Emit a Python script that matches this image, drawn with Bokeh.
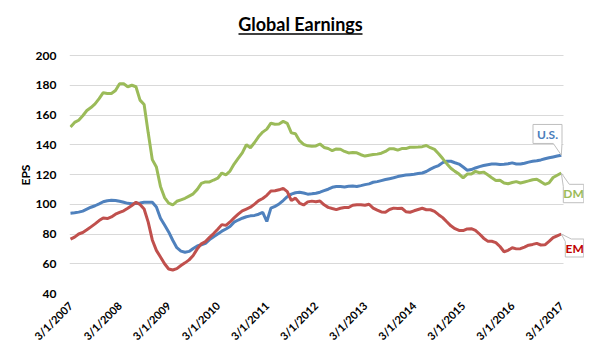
from bokeh.plotting import figure
from bokeh.models import FixedTicker, Label, Range1d, Title
from bokeh.embed import file_html
from bokeh.resources import INLINE

# ---------------- data (monthly, 3/1/2007 .. 3/1/2017) ----------------
tick_labels = ["3/1/2007", "3/1/2008", "3/1/2009", "3/1/2010", "3/1/2011", "3/1/2012",
               "3/1/2013", "3/1/2014", "3/1/2015", "3/1/2016", "3/1/2017"]
y_ticks = [40, 60, 80, 100, 120, 140, 160, 180, 200]

us = [94, 94.3, 94.7, 95.4, 96.7, 98, 99, 100.3, 101.7, 102.4,
      102.7, 102.5, 102, 101.3, 100.6, 100.4, 100.5, 100.8, 101.3, 101.4,
      101.4, 98.2, 90.6, 86, 81.4, 75.8, 70.8, 68.5, 67.7, 68.3,
      70.2, 71.9, 72.8, 73.7, 76.2, 78.2, 80, 81.9, 83.4, 85.1,
      88, 89.4, 90.6, 91.6, 92.2, 92.5, 93.3, 94.6, 88.4, 97.4,
      98.6, 100.2, 102.5, 105.1, 106.8, 107.7, 108.1, 107.6, 106.8, 107,
      107.4, 108.1, 109.1, 110.1, 111.4, 111.9, 112, 111.6, 112.1, 112.2,
      111.9, 112.5, 113.2, 113.7, 114.8, 115.2, 115.9, 116.6, 117.2, 117.8,
      118.6, 119.2, 119.6, 119.9, 120.2, 120.6, 121, 122, 123.6, 124.9,
      126, 128, 128.9, 128.9, 127.9, 127, 125, 122.9, 123.3, 124.4,
      125.3, 126, 126.6, 127, 127, 126.7, 126.9, 127.2, 127.8, 127.1,
      127, 127.6, 128.3, 128.9, 129.2, 129.8, 130.6, 131.2, 131.8, 132.4,
      133]

dm = [152, 155, 156.5, 159.5, 163, 165, 167.5, 171, 175, 174.5,
      174.5, 176.5, 181, 181, 179, 180, 179, 170, 167, 148,
      130, 125, 112, 104.5, 100.7, 99.5, 102, 103, 104, 105.5,
      107, 110, 114, 115, 115, 116.3, 117.5, 121, 119.8, 122.3,
      127, 130.8, 134.5, 140, 138, 141.5, 145.5, 148.5, 150.5, 154.5,
      153.8, 154, 155.7, 154.4, 148, 147.4, 142.7, 140.3, 139.3, 139,
      139.2, 140.5, 138.2, 137.5, 136, 137.2, 137, 135.5, 134.5, 134.8,
      134.6, 133.3, 132.4, 133, 133.4, 133.7, 134.3, 135.5, 137.3, 137.3,
      136.4, 137.4, 137.4, 138.3, 138.4, 138.5, 138.7, 139.5, 138, 136.9,
      134, 130.7, 127.3, 124.2, 122.1, 120.3, 117.7, 120.3, 120.3, 122.1,
      121.2, 121.6, 119.8, 117.8, 116, 116.2, 114.3, 113.8, 114.6, 115.2,
      114.3, 115, 115.7, 116.5, 116.8, 115.2, 113.4, 114.4, 118, 119.5,
      121]

em = [76.5, 77.9, 80, 81, 82.8, 84.8, 86.8, 89, 90.8, 90.4,
      91.5, 93.3, 94.5, 95.6, 97.3, 99.2, 101.3, 99.8, 96.8, 88,
      76, 69, 64.5, 60, 56.5, 55.8, 56.7, 58.8, 60.6, 62.6,
      65.6, 70, 73.4, 74.9, 77.7, 80.3, 83.2, 86.3, 85.8, 88.1,
      90.8, 93.3, 95.6, 96.8, 98, 100.1, 102.4, 103.9, 106, 108.9,
      109.1, 109.7, 110.7, 108.5, 102.5, 104.1, 100.8, 99.5, 101.6, 102.1,
      101.7, 102.2, 99.6, 97.9, 97.1, 96.4, 97.3, 97.8, 97.8, 99.3,
      99.7, 99.7, 99.3, 100, 97.4, 96, 94.8, 94.7, 96.5, 97.4,
      97.1, 97.3, 95, 94.6, 95.6, 96.5, 97.3, 96.3, 96.3, 95.2,
      93, 91, 88.2, 85.5, 83.6, 82.4, 82.3, 83.4, 83.6, 82.5,
      80, 77.2, 75.2, 75.1, 74.2, 71.6, 68.1, 69, 70.8, 70,
      70.1, 71.2, 72.5, 73, 73.7, 72.6, 72.7, 75, 77.5, 78.8,
      80]

months = list(range(len(us)))

# ---------------- layout (pixels) ----------------
FL, FW, FH = 69, 515, 293        # frame left edge, frame width / height (frame top = 0)
PX_X = 4.09                      # pixels per month
PX_Y = 1.4875                    # pixels per EPS unit
X0 = -1.0 / PX_X
X1 = X0 + FW / PX_X
Y0 = 40
Y1 = Y0 + FH / PX_Y
PLOT_RIGHT = X0 + 494 / PX_X     # where grid lines stop
FONT = "Lato"
US_C, DM_C, EM_C = "#4f81bd", "#9bbb59", "#c0504d"


def dx(px):
    return px / PX_X


def dy(py):  # py measured downward in pixels
    return -py / PX_Y


def fx(px):  # figure pixel -> data x
    return X0 + (px - FL) / PX_X


def fy(py):  # figure pixel -> data y
    return Y1 - py / PX_Y


p = figure(frame_width=FW, frame_height=FH, output_backend="svg", toolbar_location=None,
           x_range=Range1d(X0, X1), y_range=Range1d(Y0, Y1),
           min_border_left=FL, min_border_right=0, min_border_top=0, min_border_bottom=10)
p.outline_line_color = None
p.background_fill_color = "white"
p.border_fill_color = "white"

p.line(months, us, line_color=US_C, line_width=3)
p.line(months, dm, line_color=DM_C, line_width=3)
p.line(months, em, line_color=EM_C, line_width=3)

# axes
p.xaxis.ticker = FixedTicker(ticks=[12 * i for i in range(len(tick_labels))])
p.xaxis.major_label_overrides = {12 * i: t for i, t in enumerate(tick_labels)}
p.xaxis.major_label_orientation = 0.785398
p.xaxis.axis_line_color = None
p.xaxis.major_tick_line_color = None
p.xaxis.minor_tick_line_color = None
p.xaxis.major_label_standoff = 4
p.xaxis.major_label_text_font = FONT
p.xaxis.major_label_text_font_style = "bold"
p.xaxis.major_label_text_font_size = "11px"
p.xaxis.major_label_text_color = "black"

p.yaxis.ticker = FixedTicker(ticks=y_ticks)
p.yaxis.axis_line_color = None
p.yaxis.major_tick_line_color = None
p.yaxis.minor_tick_line_color = None
p.yaxis.major_label_standoff = 7
p.yaxis.major_label_text_font = FONT
p.yaxis.major_label_text_font_style = "bold"
p.yaxis.major_label_text_font_size = "12px"
p.yaxis.major_label_text_color = "black"

# "EPS" axis title, centred on the 40..200 span
EPS_CENTER_PX = 174
p.add_layout(Title(text="EPS", align="left", offset=FH - EPS_CENTER_PX - 11, standoff=0,
                   text_font=FONT, text_font_style="bold", text_font_size="12px",
                   text_color="black"), "left")

p.xgrid.grid_line_color = None
p.ygrid.grid_line_color = "#d9d9d9"
p.ygrid.grid_line_width = 1
p.ygrid.cross_bounds = (X0, PLOT_RIGHT)

# title with underline
p.add_layout(Label(x=fx(300), y=fy(23), text="Global Earnings", text_align="center",
                   text_baseline="alphabetic", text_font=FONT, text_font_style="bold",
                   text_font_size="18px", text_color="black"))
p.segment(x0=[fx(238)], y0=[fy(33.5)], x1=[fx(362)], y1=[fy(33.5)], line_color="black", line_width=1.5)


# callouts anchored on the last point of each series
def callout(xa, ya, pts, text, tx, ty, color):
    p.patch([xa + dx(a) for a, b in pts], [ya + dy(b) for a, b in pts],
            fill_color="white", line_color="#bfbfbf", line_width=1)
    p.add_layout(Label(x=xa + dx(tx), y=ya + dy(ty), text=text, text_align="center",
                       text_baseline="middle", text_font=FONT, text_font_style="bold",
                       text_font_size="12px", text_color=color))


last = months[-1]
callout(last, us[-1], [(-28.3, -30.7), (0.7, -30.7), (0.7, -11.7), (0, 0), (-8, -11.7), (-28.3, -11.7)],
        "U.S.", -13.8, -21, "#4a7ebb")
callout(last, dm[-1], [(2, 13.5), (0, 0), (8, 11.3), (22.5, 11.3), (22.5, 29.7), (2, 29.7)],
        "DM", 12.3, 20.5, DM_C)
callout(last, em[-1], [(4, 7.5), (0, 0), (10, 5), (22.5, 5), (22.5, 23), (4, 23)],
        "EM", 13.3, 14, "#c00000")

open("out.html", "w").write(file_html(p, INLINE))
